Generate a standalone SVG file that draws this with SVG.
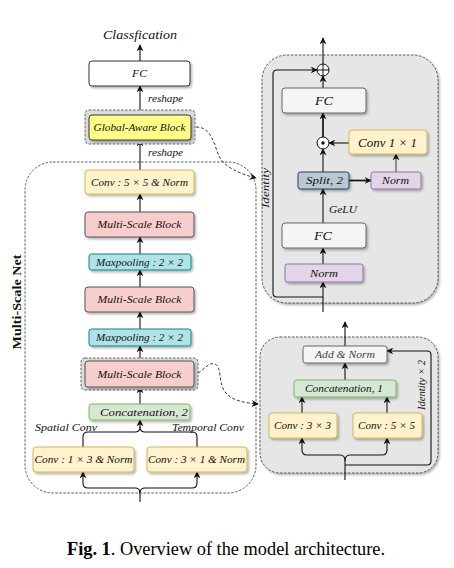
<svg xmlns="http://www.w3.org/2000/svg" width="454" height="568" viewBox="0 0 454 568">
<style>
text{font-family:"Liberation Serif","DejaVu Serif",serif;font-style:italic;font-size:10.5px;fill:#111;text-anchor:middle}
.box{filter:url(#sh)}
.yel{fill:#fff2cc;stroke:#d6b656;stroke-width:1}
.pink{fill:#f8cecc;stroke:#555;stroke-width:1}
.cyan{fill:#b0e3e6;stroke:#0e8088;stroke-width:1}
.grn{fill:#d5e8d4;stroke:#82b366;stroke-width:1}
.wht{fill:#fff;stroke:#333;stroke-width:1}
.lgr{fill:#f5f5f5;stroke:#666;stroke-width:1}
.spl{fill:#bac8d3;stroke:#23445d;stroke-width:1}
.nrm{fill:#e1d5e7;stroke:#9673a6;stroke-width:1}
.gab{fill:#ffff88;stroke:#36393d;stroke-width:1}
.hl{fill:#dcdcdc;stroke:#444;stroke-width:0.8;stroke-dasharray:2.5,1.5}
.panel{fill:#e6e6e6;stroke:#333;stroke-width:0.8;stroke-dasharray:2.5,1.5;filter:url(#sh)}
.ln{fill:none;stroke:#111;stroke-width:1.1}
.ar{fill:none;stroke:#111;stroke-width:1.1;marker-end:url(#ah)}
.thk{stroke-width:1.7}
.dsh{fill:none;stroke:#222;stroke-width:0.9;stroke-dasharray:3,2}
</style>
<defs>
<filter id="sh" x="-20%" y="-20%" width="140%" height="150%">
<feDropShadow dx="1.5" dy="1.8" stdDeviation="0.8" flood-color="#000" flood-opacity="0.3"/>
</filter>
<marker id="ah" viewBox="0 0 10 10" refX="9" refY="5" markerWidth="7" markerHeight="7" markerUnits="userSpaceOnUse" orient="auto">
<path d="M0,0 L10,5 L0,10 L3,5 z" fill="#111"/>
</marker>
</defs>

<!-- panels -->
<g id="multi-scale-net">
<rect x="25" y="162" width="231" height="331" rx="28" fill="none" stroke="#333" stroke-width="0.8" stroke-dasharray="2.5,1.5"/>
<text x="0" y="0" transform="translate(21,302) rotate(-90)" style="font-style:normal;font-weight:bold;font-size:12px" textLength="95" lengthAdjust="spacingAndGlyphs">Multi-Scale Net</text>
</g>
<g id="global-aware-detail">
<rect class="panel" x="262" y="55" width="176" height="248" rx="25"/>
</g>
<g id="multi-scale-detail">
<rect class="panel" x="260" y="337" width="178" height="136" rx="20"/>
</g>

<!-- connectors -->
<g id="connectors">
<text x="140" y="39" style="font-size:12px" textLength="74" lengthAdjust="spacingAndGlyphs">Classfication</text>
<line class="ar" x1="140" y1="61" x2="140" y2="45"/>
<line class="ar" x1="140" y1="115" x2="140" y2="86"/>
<text x="165.5" y="102" textLength="35" lengthAdjust="spacingAndGlyphs">reshape</text>
<line class="ar" x1="140" y1="170" x2="140" y2="140"/>
<text x="165.5" y="156" textLength="35" lengthAdjust="spacingAndGlyphs">reshape</text>
<line class="ar" x1="140" y1="212" x2="140" y2="194"/>
<line class="ar" x1="140" y1="254" x2="140" y2="237"/>
<line class="ar" x1="140" y1="287" x2="140" y2="270"/>
<line class="ar" x1="140" y1="329" x2="140" y2="312"/>
<line class="ar" x1="140" y1="361" x2="140" y2="346"/>
<line class="ar" x1="140" y1="404" x2="140" y2="387"/>
<!-- top brace -->
<path class="ln" d="M83,447 V437 Q83,432 88,432 H135 Q140,432 140,427 Q140,432 145,432 H192 Q197,432 197,437 V447"/>
<line class="ar" x1="140" y1="428" x2="140" y2="420"/>
<text x="66" y="431" textLength="62" lengthAdjust="spacingAndGlyphs">Spatial Conv</text>
<text x="208" y="431" textLength="72" lengthAdjust="spacingAndGlyphs">Temporal Conv</text>
<!-- bottom brace -->
<line class="ln" x1="140" y1="502" x2="140" y2="493"/>
<path class="ar" d="M140,493 Q140,488 135,488 H88 Q83,488 83,483 V472"/>
<path class="ar" d="M140,493 Q140,488 145,488 H192 Q197,488 197,483 V472"/>
<!-- dashed links -->
<path class="dsh" d="M196,127 C212,127 214,145 219,156 C224,167 240,174 256,178" marker-end="url(#ah)"/>
<path class="dsh" d="M198,373 C206,368 209,362 215,364 C222,367 218,382 225,392 C232,401 246,403 258,404" marker-end="url(#ah)"/>

<!-- top right panel connectors -->
<line class="ar" x1="323" y1="64" x2="323" y2="38"/>
<line class="ar" x1="323" y1="88" x2="323" y2="76"/>
<line class="ar thk" x1="323" y1="137" x2="323" y2="113"/>
<line class="ar" x1="323" y1="172" x2="323" y2="149"/>
<line class="ar" x1="349" y1="143" x2="329" y2="143"/>
<line class="ar thk" x1="349" y1="180.5" x2="371" y2="180.5"/>
<line class="ar" x1="396" y1="172" x2="396" y2="154" style="stroke:#444"/>
<line class="ar" x1="323" y1="223" x2="323" y2="189"/>
<text x="343" y="213" textLength="28" lengthAdjust="spacingAndGlyphs">GeLU</text>
<line class="ar" x1="323" y1="264" x2="323" y2="248"/>
<line class="ar" x1="323" y1="312" x2="323" y2="282"/>
<path class="ar" d="M323,297 H277 Q273,297 273,293 V74 Q273,70 277,70 H317"/>
<text x="0" y="0" transform="translate(269,188) rotate(-90)" textLength="40" lengthAdjust="spacingAndGlyphs">Identity</text>

<!-- bottom right panel connectors -->
<line class="ar" x1="345" y1="346" x2="345" y2="322"/>
<line class="ar" x1="345" y1="380" x2="345" y2="363"/>
<line class="ar" x1="302" y1="413" x2="302" y2="397"/>
<line class="ar" x1="387" y1="413" x2="387" y2="397"/>
<line class="ln" x1="345" y1="480" x2="345" y2="461"/>
<path class="ar" d="M345,461 Q345,455 340,455 H307 Q302,455 302,450 V438"/>
<path class="ar" d="M345,461 Q345,455 350,455 H382 Q387,455 387,450 V438"/>
<path class="ar" d="M345,465 H427 Q431,465 431,461 V355 Q431,351 427,351 H387"/>
<text x="0" y="0" transform="translate(425,385) rotate(-90)" textLength="50" lengthAdjust="spacingAndGlyphs">Identity × 2</text>
</g>

<!-- left column nodes -->
<g id="fc-top"><rect class="wht box" x="89" y="61" width="101" height="25" rx="3"/><text x="139.5" y="77" textLength="15" lengthAdjust="spacingAndGlyphs">FC</text></g>
<g id="global-aware-block"><rect class="hl" x="85" y="110" width="110" height="34" rx="4"/><rect class="gab box" x="89" y="115" width="102" height="25" rx="3"/><text x="139.5" y="131" textLength="92" lengthAdjust="spacingAndGlyphs">Global-Aware Block</text></g>
<g id="conv5x5-norm"><rect class="yel box" x="85" y="170" width="109" height="24" rx="3"/><text x="139.5" y="185.5" textLength="97" lengthAdjust="spacingAndGlyphs">Conv : 5 × 5 &amp; Norm</text></g>
<g id="msb1"><rect class="pink box" x="85" y="212" width="109" height="25" rx="3"/><text x="139.5" y="228" textLength="84" lengthAdjust="spacingAndGlyphs">Multi-Scale Block</text></g>
<g id="maxpool1"><rect class="cyan box" x="89" y="254" width="102" height="16" rx="2.5"/><text x="139.5" y="265.5" textLength="87" lengthAdjust="spacingAndGlyphs">Maxpooling : 2 × 2</text></g>
<g id="msb2"><rect class="pink box" x="85" y="287" width="109" height="25" rx="3"/><text x="139.5" y="303" textLength="84" lengthAdjust="spacingAndGlyphs">Multi-Scale Block</text></g>
<g id="maxpool2"><rect class="cyan box" x="89" y="329" width="102" height="17" rx="2.5"/><text x="139.5" y="341" textLength="87" lengthAdjust="spacingAndGlyphs">Maxpooling : 2 × 2</text></g>
<g id="msb3"><rect class="hl" x="81" y="358" width="117" height="32" rx="4"/><rect class="pink box" x="85" y="361" width="109" height="26" rx="3"/><text x="139.5" y="377.5" textLength="84" lengthAdjust="spacingAndGlyphs">Multi-Scale Block</text></g>
<g id="concat2"><rect class="grn box" x="89" y="404" width="101" height="16" rx="2.5"/><text x="144" y="415.5" textLength="88" lengthAdjust="spacingAndGlyphs">Concatenation, 2</text></g>
<g id="conv1x3"><rect class="yel box" x="33" y="447" width="101" height="25" rx="3"/><text x="83.5" y="463" textLength="98" lengthAdjust="spacingAndGlyphs">Conv : 1 × 3 &amp; Norm</text></g>
<g id="conv3x1"><rect class="yel box" x="147" y="447" width="100" height="25" rx="3"/><text x="196.5" y="463" textLength="97" lengthAdjust="spacingAndGlyphs">Conv : 3 × 1 &amp; Norm</text></g>

<!-- top right nodes -->
<g id="oplus"><circle cx="323" cy="70" r="6" fill="#fff" stroke="#111" stroke-width="1"/><path d="M317,70 H329 M323,64 V76" stroke="#111" stroke-width="1"/></g>
<g id="fc-r1"><rect class="lgr box" x="282" y="88" width="84" height="25" rx="3"/><text x="324" y="105" style="font-size:12px" textLength="18" lengthAdjust="spacingAndGlyphs">FC</text></g>
<g id="odot"><circle cx="323" cy="143" r="6" fill="#fff" stroke="#111" stroke-width="1"/><circle cx="323" cy="143" r="1.8" fill="#111"/></g>
<g id="conv1x1"><rect class="yel box" x="349" y="130" width="78" height="24" rx="3"/><text x="387.5" y="146.5" style="font-size:12px" textLength="59" lengthAdjust="spacingAndGlyphs">Conv 1 × 1</text></g>
<g id="split2"><rect class="spl box" x="298" y="172" width="51" height="17" rx="2.5"/><text x="324.5" y="184" textLength="37" lengthAdjust="spacingAndGlyphs">Split, 2</text></g>
<g id="norm-r"><rect class="nrm box" x="371" y="172" width="50" height="17" rx="2.5"/><text x="395.5" y="184" textLength="27" lengthAdjust="spacingAndGlyphs">Norm</text></g>
<g id="fc-r2"><rect class="lgr box" x="282" y="223" width="84" height="25" rx="3"/><text x="323" y="240" style="font-size:12px" textLength="18" lengthAdjust="spacingAndGlyphs">FC</text></g>
<g id="norm-b"><rect class="nrm box" x="285" y="264" width="78" height="18" rx="2.5"/><text x="324" y="276.5" textLength="28" lengthAdjust="spacingAndGlyphs">Norm</text></g>

<!-- bottom right nodes -->
<g id="add-norm"><rect class="lgr box" x="303" y="346" width="84" height="17" rx="2.5"/><text x="345" y="358" style="fill:#444" textLength="60" lengthAdjust="spacingAndGlyphs">Add &amp; Norm</text></g>
<g id="concat1"><rect class="grn box" x="294" y="380" width="102" height="17" rx="2.5"/><text x="344" y="392" textLength="78" lengthAdjust="spacingAndGlyphs">Concatenation, 1</text></g>
<g id="conv3x3"><rect class="yel box" x="269" y="413" width="68" height="25" rx="3"/><text x="302.5" y="429" textLength="57" lengthAdjust="spacingAndGlyphs">Conv : 3 × 3</text></g>
<g id="conv5x5"><rect class="yel box" x="353" y="413" width="69" height="25" rx="3"/><text x="386.5" y="429" textLength="57" lengthAdjust="spacingAndGlyphs">Conv : 5 × 5</text></g>

<text x="67" y="555" style="font-style:normal;font-size:18px;text-anchor:start;fill:#000" textLength="318" lengthAdjust="spacingAndGlyphs"><tspan font-weight="bold">Fig. 1</tspan>. Overview of the model architecture.</text>
</svg>
